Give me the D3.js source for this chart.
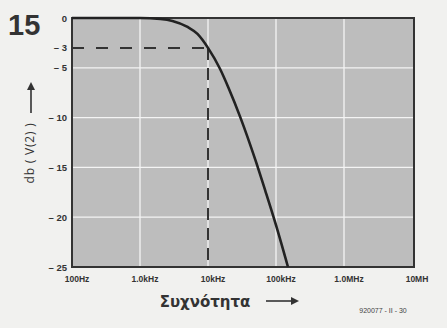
<!DOCTYPE html>
<html><head><meta charset="utf-8">
<script src="https://cdn.jsdelivr.net/npm/d3@7"></script>
<style>body{margin:0;background:#f1f1ef;}svg{display:block;}</style>
</head><body>
<svg id="c" width="447" height="328"></svg>
<script>
const freqs = [100, 1000, 2000, 3000, 5000, 7000, 10000, 15000, 20000, 30000, 50000, 70000, 100000, 150000];
const dB    = [0, 0, -0.1, -0.3, -0.9, -1.6, -3, -5.1, -7.0, -10.0, -14.3, -17.4, -20.8, -25];
const xTickVals = [100, 1000, 10000, 100000, 1000000, 10000000];
const xTickLabels = ["100Hz", "1.0kHz", "10kHz", "100kHz", "1.0MHz", "10MH"];
const yTickVals = [0, -3, -5, -10, -15, -20, -25];
const yTickLabels = ["0", "\u2013 3", "\u2013 5", "\u2013 10", "\u2013 15", "\u2013 20", "\u2013 25"];
const yGridVals = [-5, -10, -15, -20];
const cutoff = {f: 10000, db: -3};

const svg = d3.select("#c");
const L = 72, R = 412, T = 18, B = 267;
const x = d3.scaleLog().domain([100, 1e7]).range([L, R]);
const y = d3.scaleLinear().domain([0, -25]).range([T, B]);

svg.append("rect").attr("x", L).attr("y", T).attr("width", R - L + 2).attr("height", B - T)
  .attr("fill", "#bdbdbd");

svg.append("g").selectAll("line").data(yGridVals).join("line")
  .attr("x1", L).attr("x2", R + 2).attr("y1", d => y(d)).attr("y2", d => y(d))
  .attr("stroke", "#f4f4f4").attr("stroke-width", 1.3);
svg.append("g").selectAll("line").data(xTickVals.slice(1, -1)).join("line")
  .attr("x1", d => x(d)).attr("x2", d => x(d)).attr("y1", T).attr("y2", B)
  .attr("stroke", "#f4f4f4").attr("stroke-width", 1.3);

svg.append("rect").attr("x", L).attr("y", T).attr("width", R - L + 2).attr("height", B - T)
  .attr("fill", "none").attr("stroke", "#333").attr("stroke-width", 2);

svg.append("line").attr("x1", L).attr("x2", x(cutoff.f)).attr("y1", y(cutoff.db)).attr("y2", y(cutoff.db))
  .attr("stroke", "#333").attr("stroke-width", 2).attr("stroke-dasharray", "12,12");
svg.append("line").attr("x1", x(cutoff.f)).attr("x2", x(cutoff.f)).attr("y1", y(cutoff.db)).attr("y2", B)
  .attr("stroke", "#333").attr("stroke-width", 2).attr("stroke-dasharray", "12,8");

const pts = freqs.map((f, i) => [f, dB[i]]);
svg.append("path").datum(pts)
  .attr("d", d3.line().x(d => x(d[0])).y(d => y(d[1])).curve(d3.curveMonotoneX))
  .attr("fill", "none").attr("stroke", "#222").attr("stroke-width", 2.6);

svg.append("g").selectAll("text").data(yTickVals).join("text")
  .attr("x", 67).attr("y", d => y(d) + 3.5).attr("text-anchor", "end")
  .attr("font-family", "Liberation Sans, Arial, sans-serif").attr("font-weight", "bold")
  .attr("font-size", 9.5).attr("fill", "#333")
  .text((d, i) => yTickLabels[i]);

svg.append("g").selectAll("text").data(xTickVals).join("text")
  .attr("x", d => x(d) + 5).attr("y", 282).attr("text-anchor", "middle")
  .attr("font-family", "Liberation Sans, Arial, sans-serif").attr("font-weight", "bold")
  .attr("font-size", 8.5).attr("fill", "#333")
  .text((d, i) => xTickLabels[i]);

svg.append("text").attr("x", 8).attr("y", 35).attr("font-family", "Liberation Sans, Arial, sans-serif")
  .attr("font-weight", "bold").attr("font-size", 29).attr("fill", "#333").text("15");

svg.append("text").attr("transform", "translate(34,153) rotate(-90)").attr("text-anchor", "middle")
  .attr("font-family", "Open Sans, Liberation Sans, sans-serif").attr("font-size", 12)
  .attr("letter-spacing", 0.8).attr("fill", "#333")
  .text("db ( V(2) )");
svg.append("line").attr("x1", 31).attr("x2", 31).attr("y1", 113).attr("y2", 88)
  .attr("stroke", "#333").attr("stroke-width", 1.6);
svg.append("path").attr("d", "M27,90 L31,82 L35,90 Z").attr("fill", "#333");

svg.append("text").attr("x", 205).attr("y", 307).attr("text-anchor", "middle")
  .attr("font-family", "DejaVu Sans, sans-serif").attr("font-weight", "bold")
  .attr("font-size", 15).attr("fill", "#333").text("Συχνότητα");
svg.append("line").attr("x1", 266).attr("x2", 293).attr("y1", 301).attr("y2", 301)
  .attr("stroke", "#333").attr("stroke-width", 1.6);
svg.append("path").attr("d", "M291,297 L299,301 L291,305 Z").attr("fill", "#333");

svg.append("text").attr("x", 383).attr("y", 313).attr("text-anchor", "middle")
  .attr("font-family", "Liberation Sans Narrow, Liberation Sans, sans-serif")
  .attr("font-size", 7).attr("fill", "#444").text("920077 - II - 30");
</script>
</body></html>
